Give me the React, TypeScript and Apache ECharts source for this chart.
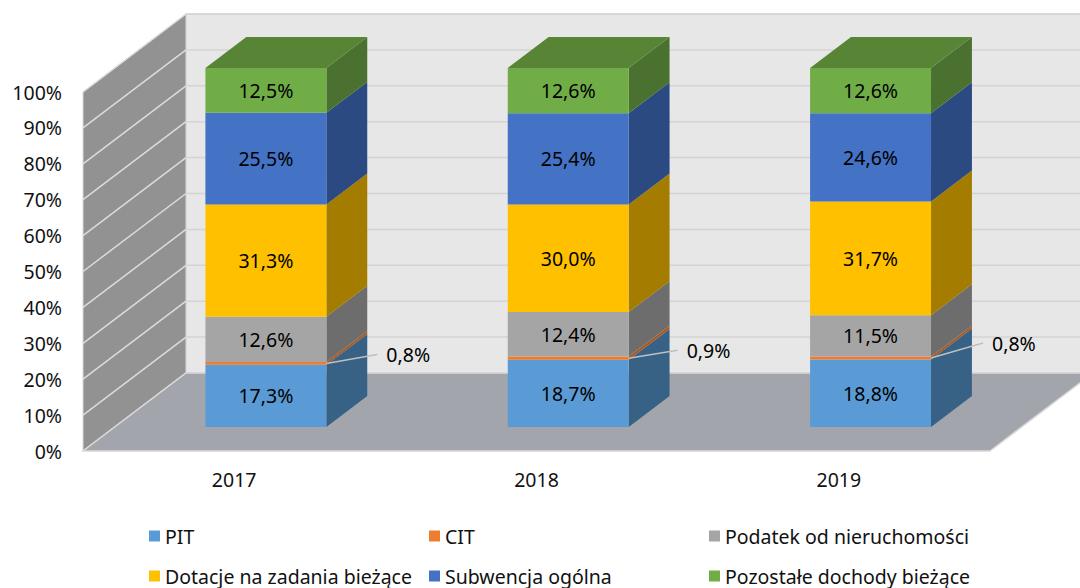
import { useEffect, useRef } from "react";
import * as echarts from "echarts";

// ---- data ----
const YEARS = ["2017", "2018", "2019"];
const PIT = [17.3, 18.7, 18.8];
const CIT = [0.8, 0.9, 0.8];
const PODATEK = [12.6, 12.4, 11.5];
const DOTACJE = [31.3, 30.0, 31.7];
const SUBWENCJA = [25.5, 25.4, 24.6];
const POZOSTALE = [12.5, 12.6, 12.6];
const Y_TICKS = [0, 10, 20, 30, 40, 50, 60, 70, 80, 90, 100];
const SERIES_NAMES = [
  "PIT",
  "CIT",
  "Podatek od nieruchomości",
  "Dotacje na zadania bieżące",
  "Subwencja ogólna",
  "Pozostałe dochody bieżące",
];
const SERIES_VALUES = [PIT, CIT, PODATEK, DOTACJE, SUBWENCJA, POZOSTALE];

// ---- styles ----
const FRONT = ["#5B9BD5", "#ED7D31", "#A5A5A5", "#FFC000", "#4472C4", "#70AD47"];
const SIDE = ["#386186", "#A85A24", "#6D6D6D", "#A37C00", "#2B4A82", "#4A7130"];
const TOP_COLOR = "#578535";
const FONT = "'Noto Sans', 'DejaVu Sans', sans-serif";
const FS = 19.5;
const DEPTH_X = 103;
const DEPTH_Y = -78;
const F1 = 0.308;
const F2 = 0.705;
const BAR_RATIO = 0.4;
const LEADER = [
  [51, -9],
  [49, -8],
  [52, -15],
];
const LEGEND_X = [149, 429, 709];
const LEGEND_Y = [526, 566];

const fmt = (v: number) => v.toFixed(1).replace(".", ",") + "%";

export default function App() {
  const ref = useRef<HTMLDivElement>(null);

  useEffect(() => {
    if (!ref.current) return;
    const chart = echarts.init(ref.current, undefined, { renderer: "svg" });

    const f1x = DEPTH_X * F1,
      f1y = DEPTH_Y * F1;
    const f2x = DEPTH_X * F2,
      f2y = DEPTH_Y * F2;

    const wallsRender = (params: any, api: any) => {
      const cs = params.coordSys;
      const gx = cs.x,
        gt = cs.y,
        gr = cs.x + cs.width,
        gb = cs.y + cs.height;
      const children: any[] = [];
      // back wall
      children.push({
        type: "polygon",
        shape: {
          points: [
            [gx + DEPTH_X, gt + DEPTH_Y],
            [gr + DEPTH_X, gt + DEPTH_Y],
            [gr + DEPTH_X, gb + DEPTH_Y],
            [gx + DEPTH_X, gb + DEPTH_Y],
          ],
        },
        style: { fill: "#E7E7E7", stroke: "#D9D9D9", lineWidth: 1.5 },
      });
      // back gridlines
      Y_TICKS.forEach((t) => {
        const y = api.coord([0, t])[1];
        children.push({
          type: "line",
          shape: { x1: gx + DEPTH_X, y1: y + DEPTH_Y, x2: gr + DEPTH_X, y2: y + DEPTH_Y },
          style: { stroke: "#D4D4D4", lineWidth: 1.5 },
        });
      });
      // side wall
      children.push({
        type: "polygon",
        shape: {
          points: [
            [gx, gt],
            [gx + DEPTH_X, gt + DEPTH_Y],
            [gx + DEPTH_X, gb + DEPTH_Y],
            [gx, gb],
          ],
        },
        style: { fill: "#929292", stroke: "#D9D9D9", lineWidth: 1 },
      });
      Y_TICKS.forEach((t) => {
        const y = api.coord([0, t])[1];
        children.push({
          type: "line",
          shape: { x1: gx, y1: y, x2: gx + DEPTH_X, y2: y + DEPTH_Y },
          style: { stroke: "#DCDCDC", lineWidth: 1.5 },
        });
      });
      // floor
      children.push({
        type: "polygon",
        shape: {
          points: [
            [gx, gb],
            [gx + DEPTH_X, gb + DEPTH_Y],
            [gr + DEPTH_X, gb + DEPTH_Y],
            [gr, gb],
          ],
        },
        style: { fill: "#A3A5AC", stroke: "#D9D9D9", lineWidth: 1.5 },
      });
      return { type: "group", children };
    };

    const makeBarRender = (sIdx: number) => (params: any, api: any) => {
      const cat = api.value(0);
      const lo = api.value(1);
      const hi = api.value(2);
      const val = api.value(3);
      const pLo = api.coord([cat, lo]);
      const pHi = api.coord([cat, hi]);
      const bw = api.size([1, 0])[0] * BAR_RATIO;
      const xl = pLo[0] - bw / 2 + f1x;
      const xr = pLo[0] + bw / 2 + f1x;
      const yb = pLo[1] + f1y;
      const yt = pHi[1] + f1y;
      const dx = f2x - f1x,
        dy = f2y - f1y;
      const children: any[] = [
        {
          type: "polygon",
          shape: { points: [[xr, yb], [xr + dx, yb + dy], [xr + dx, yt + dy], [xr, yt]] },
          style: { fill: SIDE[sIdx] },
        },
        {
          type: "rect",
          shape: { x: xl, y: yt, width: xr - xl, height: yb - yt },
          style: { fill: FRONT[sIdx] },
        },
      ];
      if (sIdx === SERIES_NAMES.length - 1) {
        children.push({
          type: "polygon",
          shape: { points: [[xl, yt], [xl + dx, yt + dy], [xr + dx, yt + dy], [xr, yt]] },
          style: { fill: TOP_COLOR },
        });
      }
      if (sIdx === 1) {
        const ym = (yb + yt) / 2;
        const off = LEADER[params.dataIndex] || LEADER[0];
        children.push({
          type: "line",
          shape: { x1: xr, y1: ym, x2: xr + off[0], y2: ym + off[1] },
          style: { stroke: "#BFBFBF", lineWidth: 1.5 },
          z2: 10,
        });
        children.push({
          type: "text",
          style: {
            text: fmt(val),
            x: xr + off[0] + 9,
            y: ym + off[1],
            align: "left",
            verticalAlign: "middle",
            fill: "#000",
            fontSize: FS,
            fontFamily: FONT,
          },
          z2: 10,
        });
      } else {
        children.push({
          type: "text",
          style: {
            text: fmt(val),
            x: (xl + xr) / 2,
            y: (yb + yt) / 2,
            align: "center",
            verticalAlign: "middle",
            fill: "#000",
            fontSize: FS,
            fontFamily: FONT,
          },
          z2: 10,
        });
      }
      return { type: "group", children };
    };

    const cum = YEARS.map(() => 0);
    const barSeries = SERIES_NAMES.map((name, sIdx) => {
      const data = YEARS.map((_, i) => {
        const v = SERIES_VALUES[sIdx][i];
        const lo = cum[i];
        cum[i] += v;
        return [i, lo, lo + v, v];
      });
      return {
        type: "custom",
        name,
        renderItem: makeBarRender(sIdx),
        data,
        encode: { x: 0, y: [1, 2] },
        itemStyle: { color: FRONT[sIdx] },
        z: 3 + sIdx,
        silent: true,
      };
    });

    chart.setOption({
      animation: false,
      backgroundColor: "#ffffff",
      grid: { left: 83, top: 92, width: 907, height: 359 },
      xAxis: {
        type: "category",
        data: YEARS,
        axisLine: { show: false },
        axisTick: { show: false },
        axisLabel: { margin: 18, color: "#111", fontSize: FS, fontFamily: FONT },
        splitLine: { show: false },
      },
      yAxis: {
        type: "value",
        min: 0,
        max: 100,
        interval: 10,
        axisLine: { show: false },
        axisTick: { show: false },
        splitLine: { show: false },
        axisLabel: {
          margin: 21,
          formatter: "{value}%",
          color: "#111",
          fontSize: FS,
          fontFamily: FONT,
        },
      },
      legend: SERIES_NAMES.map((name, i) => ({
        data: [{ name, itemStyle: { color: FRONT[i] } }],
        left: LEGEND_X[i % 3],
        top: LEGEND_Y[Math.floor(i / 3)],
        orient: "horizontal",
        icon: "rect",
        itemWidth: 11,
        itemHeight: 11,
        padding: 0,
        selectedMode: false,
        textStyle: { color: "#111", fontSize: FS, fontFamily: FONT, lineHeight: 20 },
      })),
      series: [
        {
          type: "custom",
          name: "__walls",
          renderItem: wallsRender,
          data: [[0, 0]],
          encode: { x: 0, y: 1 },
          z: 1,
          silent: true,
        },
        ...barSeries,
      ],
    });

    return () => chart.dispose();
  }, []);

  return (
    <div
      ref={ref}
      style={{ position: "fixed", left: 0, top: 0, width: 1080, height: 588 }}
    />
  );
}
